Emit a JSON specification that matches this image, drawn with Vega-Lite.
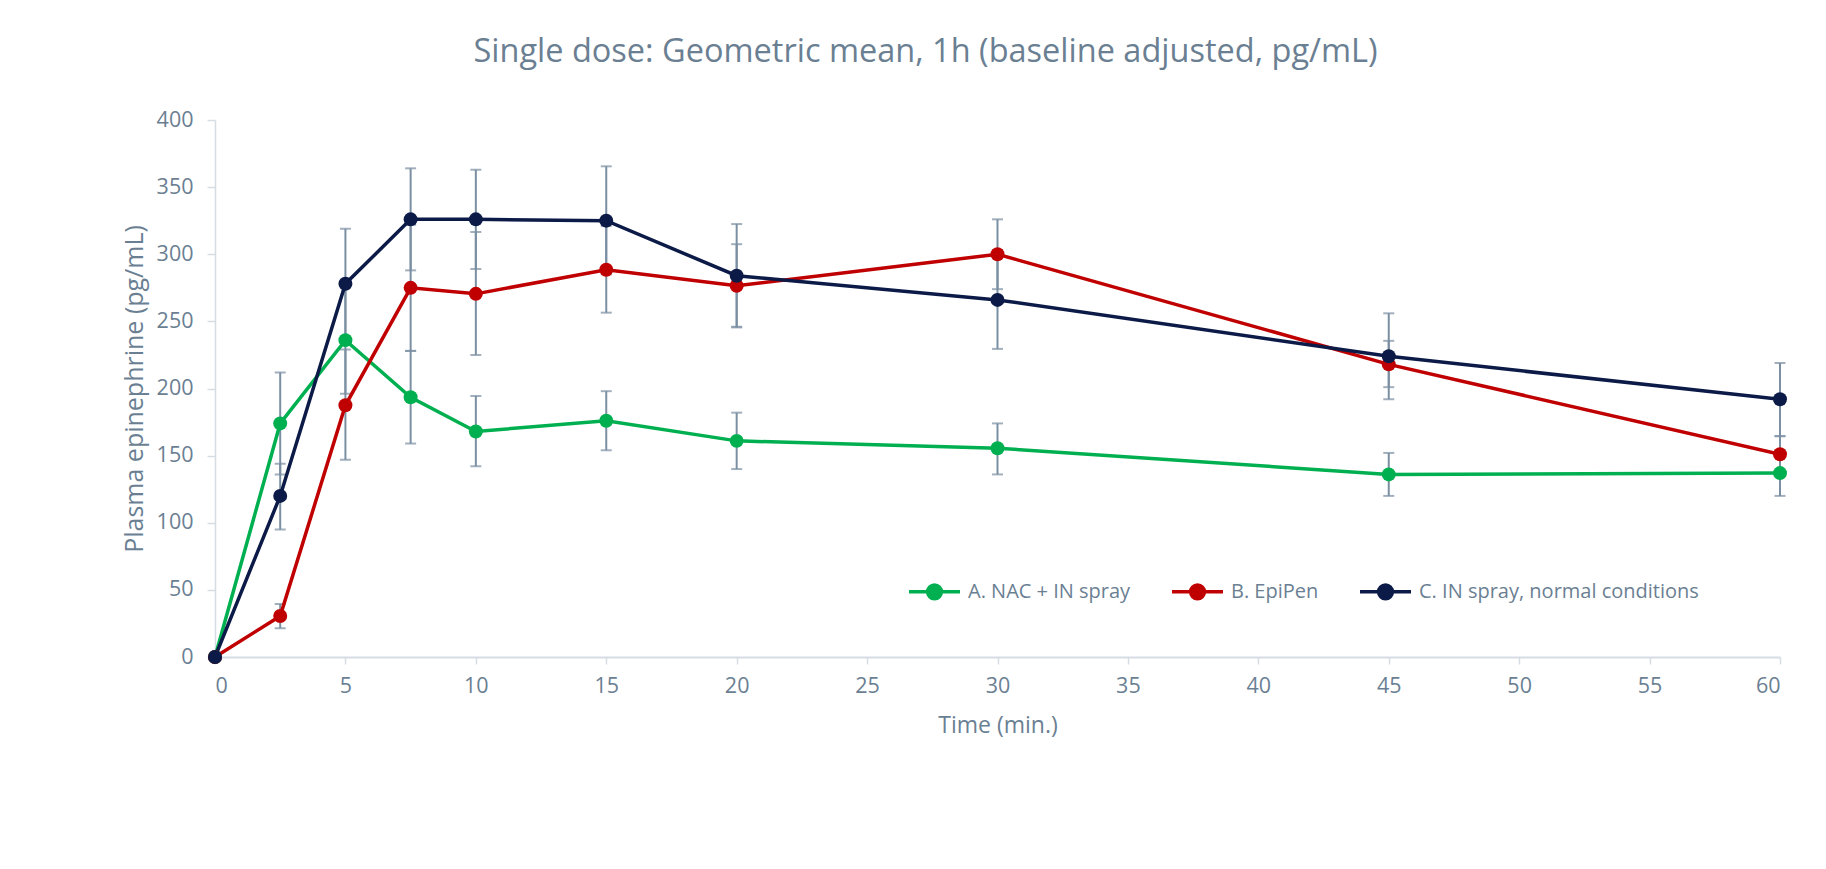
{
  "$schema": "https://vega.github.io/schema/vega-lite/v6.json",
  "autosize": {"type": "none"},
  "width": 1565,
  "height": 537,
  "padding": {"left": 215, "top": 120, "right": 46, "bottom": 212},
  "background": "white",
  "title": {
    "text": "Single dose: Geometric mean, 1h (baseline adjusted, pg/mL)",
    "font": "Open Sans",
    "fontSize": 32.5,
    "fontWeight": "normal",
    "color": "#6b7f93",
    "anchor": "middle",
    "dx": -72,
    "offset": 41
  },
  "data": {
    "values": [
      {"t": 0, "s": "A. NAC + IN spray", "v": 0, "lo": null, "hi": null},
      {"t": 2.5, "s": "A. NAC + IN spray", "v": 174, "lo": 136, "hi": 212},
      {"t": 5, "s": "A. NAC + IN spray", "v": 236, "lo": 196, "hi": 276},
      {"t": 7.5, "s": "A. NAC + IN spray", "v": 193.5, "lo": 159, "hi": 228},
      {"t": 10, "s": "A. NAC + IN spray", "v": 168, "lo": 142, "hi": 194.5},
      {"t": 15, "s": "A. NAC + IN spray", "v": 176, "lo": 154, "hi": 198},
      {"t": 20, "s": "A. NAC + IN spray", "v": 161, "lo": 140, "hi": 182},
      {"t": 30, "s": "A. NAC + IN spray", "v": 155.5, "lo": 136, "hi": 174},
      {"t": 45, "s": "A. NAC + IN spray", "v": 136, "lo": 120, "hi": 152},
      {"t": 60, "s": "A. NAC + IN spray", "v": 137, "lo": 120, "hi": 154},
      {"t": 0, "s": "B. EpiPen", "v": 0, "lo": null, "hi": null},
      {"t": 2.5, "s": "B. EpiPen", "v": 30.5, "lo": 21.5, "hi": 39.5},
      {"t": 5, "s": "B. EpiPen", "v": 187.5, "lo": 147, "hi": 229},
      {"t": 7.5, "s": "B. EpiPen", "v": 275, "lo": 228, "hi": 322},
      {"t": 10, "s": "B. EpiPen", "v": 270.5, "lo": 225, "hi": 316.5},
      {"t": 15, "s": "B. EpiPen", "v": 288.5, "lo": 256.5, "hi": 321},
      {"t": 20, "s": "B. EpiPen", "v": 276.5, "lo": 245.5, "hi": 307.5},
      {"t": 30, "s": "B. EpiPen", "v": 300, "lo": 274, "hi": 326},
      {"t": 45, "s": "B. EpiPen", "v": 218, "lo": 201, "hi": 235.5},
      {"t": 60, "s": "B. EpiPen", "v": 151, "lo": 138, "hi": 164.5},
      {"t": 0, "s": "C. IN spray, normal conditions", "v": 0, "lo": null, "hi": null},
      {"t": 2.5, "s": "C. IN spray, normal conditions", "v": 120, "lo": 95, "hi": 144},
      {"t": 5, "s": "C. IN spray, normal conditions", "v": 278, "lo": 237, "hi": 319},
      {"t": 7.5, "s": "C. IN spray, normal conditions", "v": 326, "lo": 288, "hi": 364},
      {"t": 10, "s": "C. IN spray, normal conditions", "v": 326, "lo": 289, "hi": 363},
      {"t": 15, "s": "C. IN spray, normal conditions", "v": 325, "lo": 285, "hi": 365.5},
      {"t": 20, "s": "C. IN spray, normal conditions", "v": 284, "lo": 246, "hi": 322.5},
      {"t": 30, "s": "C. IN spray, normal conditions", "v": 266, "lo": 229.5, "hi": 303},
      {"t": 45, "s": "C. IN spray, normal conditions", "v": 224, "lo": 192, "hi": 256},
      {"t": 60, "s": "C. IN spray, normal conditions", "v": 192, "lo": 164.5, "hi": 219}
    ]
  },
  "encoding": {
    "x": {
      "field": "t",
      "type": "quantitative",
      "scale": {"domain": [0, 60], "nice": false, "zero": false},
      "axis": {
        "title": "Time (min.)",
        "values": [0, 5, 10, 15, 20, 25, 30, 35, 40, 45, 50, 55, 60],
        "domainWidth": 2,
        "tickSize": 7,
        "labelPadding": 11,
        "titlePadding": 18
      }
    }
  },
  "layer": [
    {
      "mark": {"type": "rule", "color": "#7b8fa3", "strokeWidth": 2},
      "encoding": {
        "y": {"field": "lo", "type": "quantitative", "scale": {"domain": [0, 400], "nice": false}, "axis": {"title": "Plasma epinephrine (pg/mL)", "values": [0, 50, 100, 150, 200, 250, 300, 350, 400]}},
        "y2": {"field": "hi"}
      }
    },
    {
      "mark": {"type": "tick", "orient": "horizontal", "color": "#7b8fa3", "size": 11, "thickness": 2},
      "encoding": {"y": {"field": "lo", "type": "quantitative", "scale": {"domain": [0, 400], "nice": false}, "axis": {"title": "Plasma epinephrine (pg/mL)", "values": [0, 50, 100, 150, 200, 250, 300, 350, 400]}}}
    },
    {
      "mark": {"type": "tick", "orient": "horizontal", "color": "#7b8fa3", "size": 11, "thickness": 2},
      "encoding": {"y": {"field": "hi", "type": "quantitative", "scale": {"domain": [0, 400], "nice": false}, "axis": {"title": "Plasma epinephrine (pg/mL)", "values": [0, 50, 100, 150, 200, 250, 300, 350, 400]}}}
    },
    {
      "mark": {"type": "line", "strokeWidth": 3.5},
      "encoding": {
        "y": {"field": "v", "type": "quantitative", "scale": {"domain": [0, 400], "nice": false}, "axis": {"title": "Plasma epinephrine (pg/mL)", "values": [0, 50, 100, 150, 200, 250, 300, 350, 400]}},
        "color": {"field": "s", "type": "nominal"}
      }
    },
    {
      "mark": {"type": "point", "filled": true, "opacity": 1, "size": 195},
      "encoding": {
        "y": {"field": "v", "type": "quantitative", "scale": {"domain": [0, 400], "nice": false}, "axis": {"title": "Plasma epinephrine (pg/mL)", "values": [0, 50, 100, 150, 200, 250, 300, 350, 400]}},
        "color": {"field": "s", "type": "nominal"}
      }
    }
  ],
  "resolve": {"scale": {"y": "shared"}},
  "config": {
    "view": {"stroke": null},
    "range": {"category": ["#00b050", "#c00000", "#0c1a47"]},
    "axis": {
      "grid": false,
      "domainColor": "#d5dce4",
      "tickColor": "#d5dce4",
      "tickWidth": 1.5,
      "labelFont": "Open Sans",
      "labelFontSize": 21.5,
      "labelColor": "#6b7f93",
      "titleFont": "Open Sans",
      "titleFontSize": 23,
      "titleFontWeight": "normal",
      "titleColor": "#6b7f93"
    },
    "axisY": {
      "domainWidth": 1.5,
      "tickSize": 8,
      "labelPadding": 14,
      "titlePadding": 9,
      "titleFontSize": 25
    },
    "legend": {
      "orient": "none",
      "legendX": 692,
      "legendY": 444,
      "direction": "horizontal",
      "title": null,
      "padding": 0,
      "symbolType": "M-1,0H1M-0.27,0A0.27,0.27,0,1,1,0.27,0A0.27,0.27,0,1,1,-0.27,0Z",
      "symbolSize": 2601,
      "symbolStrokeWidth": 3.5,
      "labelFont": "Open Sans",
      "labelFontSize": 20,
      "labelColor": "#6b7f93",
      "labelOffset": 6,
      "labelLimit": 500,
      "columnPadding": 34
    }
  }
}
